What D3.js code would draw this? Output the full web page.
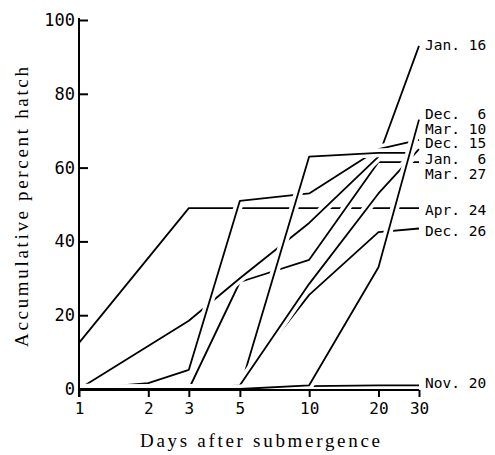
<!DOCTYPE html>
<html>
<head>
<meta charset="utf-8">
<script src="https://cdn.jsdelivr.net/npm/d3@7/dist/d3.min.js"></script>
<style>
  body { margin: 0; background: #fff; }
  svg { display: block; }
  .lbl { font-family: "DejaVu Sans Mono", monospace; font-size: 14.5px; white-space: pre; }
  .tick text { font-family: "DejaVu Sans Mono", monospace; }
  .title { font-family: "Liberation Serif", "Times New Roman", serif; font-size: 19px; }
</style>
</head>
<body>
<svg width="495" height="455"></svg>
<script>
var width = 495,
    height = 455;

var dayTicks = [1, 2, 3, 5, 10, 20, 30];
var pctTicks = [0, 20, 40, 60, 80, 100];

// [days, accumulative % hatch]
var nov20 = [[1, 0], [3, 0], [5, 0.3], [10, 0.8], [20, 1], [30, 1]];
var apr24 = [[1, 12.5], [3, 49], [5, 49], [10, 49], [20, 49], [30, 49]];
var dec26 = [[1, 0], [3, 0], [5, 1.5], [10, 25.5], [20, 42.5], [30, 43.5]];
var jan6  = [[1, 0], [3, 0], [5, 1], [10, 28.5], [20, 53], [30, 65]];
var mar27 = [[1, 0], [3, 0], [5, 29], [10, 35], [20, 61.5], [30, 61.5]];
var jan16 = [[1, 0], [3, 18.5], [5, 30], [10, 45], [20, 63], [30, 93]];
var mar10 = [[1, 0], [2, 1.6], [3, 5.2], [5, 51], [10, 53], [20, 65], [30, 67.5]];
var dec6  = [[1, 0], [3, 0], [5, 0], [10, 1], [20, 33], [30, 73]];
var dec15 = [[1, 0], [3, 0], [5, 0], [10, 63], [20, 64], [30, 64]];

// drawing order: later lines cut the earlier ones where they cross
var series = [nov20, apr24, mar27, jan16, mar10, dec15, dec26, jan6, dec6];

var labelNames = ["Jan. 16", "Dec.  6", "Mar. 10", "Dec. 15", "Jan.  6",
                  "Mar. 27", "Apr. 24", "Dec. 26", "Nov. 20"];
var labelVals = [93.2, 74.7, 70.6, 66.6, 62.5, 58.4, 48.6, 42.8, 1.6];

var x = d3.scaleLog()
    .domain([1, 30])
    .range([79, 419]);

var y = d3.scaleLinear()
    .domain([0, 100])
    .range([389, 20]);

var svg = d3.select("svg");

var line = d3.line()
    .x(function(d) { return x(d[0]); })
    .y(function(d) { return y(d[1]); });

var lines = svg.append("g");

series.forEach(function(s) {
  lines.append("path")
      .datum(s)
      .attr("d", line)
      .style("fill", "none")
      .style("stroke", "#fff")
      .style("stroke-width", "9px");
  lines.append("path")
      .datum(s)
      .attr("d", line)
      .style("fill", "none")
      .style("stroke", "#000")
      .style("stroke-width", "1.8px")
      .style("stroke-linejoin", "round");
});

// axes
var yAxis = d3.axisLeft(y)
    .tickValues(pctTicks)
    .tickSize(-9)
    .tickPadding(4)
    .tickFormat(d3.format("d"));

var gy = svg.append("g")
    .attr("transform", "translate(" + x(1) + ",0)")
    .call(yAxis);
gy.select(".domain").remove();
gy.selectAll("line").style("stroke", "#000").style("stroke-width", "2px");
gy.selectAll("text")
    .style("font-size", "17px")
    .style("fill", "#000");

var xAxis = d3.axisBottom(x)
    .tickValues(dayTicks)
    .tickSize(7)
    .tickPadding(6)
    .tickFormat(d3.format("d"));

var gx = svg.append("g")
    .attr("transform", "translate(0," + (y(0) + 1) + ")")
    .call(xAxis);
gx.select(".domain").remove();
gx.selectAll("line").style("stroke", "#000").style("stroke-width", "2px");
gx.selectAll("text")
    .style("font-size", "16px")
    .style("fill", "#000");

svg.append("line")
    .attr("x1", x(1)).attr("x2", x(1))
    .attr("y1", y(100) - 2).attr("y2", y(0) + 8)
    .style("stroke", "#000")
    .style("stroke-width", "2px");

svg.append("line")
    .attr("x1", x(1)).attr("x2", x(30))
    .attr("y1", y(0) + 1).attr("y2", y(0) + 1)
    .style("stroke", "#000")
    .style("stroke-width", "2px");

// series labels
svg.append("g").selectAll("text")
    .data(labelNames)
    .enter()
    .append("text")
    .attr("class", "lbl")
    .attr("x", 425)
    .attr("y", function(d, i) { return y(labelVals[i]); })
    .attr("dy", "0.36em")
    .text(function(d) { return d; });

// titles
svg.append("text")
    .attr("class", "title")
    .attr("transform", "translate(28,207) rotate(-90)")
    .attr("text-anchor", "middle")
    .attr("textLength", 280)
    .attr("lengthAdjust", "spacing")
    .text("Accumulative percent hatch");

svg.append("text")
    .attr("class", "title")
    .attr("x", 260)
    .attr("y", 447)
    .attr("text-anchor", "middle")
    .attr("textLength", 240)
    .attr("lengthAdjust", "spacing")
    .text("Days after submergence");
</script>
</body>
</html>
